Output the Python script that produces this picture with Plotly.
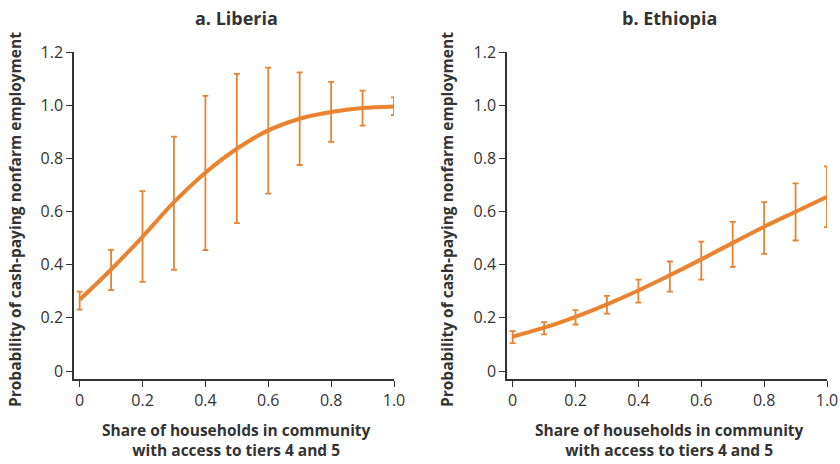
import plotly.graph_objects as go
from plotly.subplots import make_subplots

# Datos
share = [0, 0.1, 0.2, 0.3, 0.4, 0.5, 0.6, 0.7, 0.8, 0.9, 1.0]

liberia_mid = [0.268, 0.382, 0.505, 0.635, 0.746, 0.836, 0.905, 0.949, 0.974, 0.989, 0.995]
liberia_low = [0.231, 0.304, 0.335, 0.381, 0.455, 0.556, 0.667, 0.775, 0.862, 0.923, 0.963]
liberia_high = [0.299, 0.456, 0.677, 0.882, 1.035, 1.118, 1.141, 1.123, 1.088, 1.055, 1.029]

ethiopia_mid = [0.129, 0.163, 0.204, 0.251, 0.303, 0.360, 0.420, 0.482, 0.543, 0.599, 0.655]
ethiopia_low = [0.105, 0.138, 0.175, 0.216, 0.257, 0.299, 0.344, 0.392, 0.441, 0.491, 0.541]
ethiopia_high = [0.150, 0.184, 0.229, 0.283, 0.344, 0.412, 0.487, 0.561, 0.635, 0.706, 0.770]

panel_titles = ["a. Liberia", "b. Ethiopia"]
y_ticks = [0, 0.2, 0.4, 0.6, 0.8, 1.0, 1.2]
y_ticktext = ["0", "0.2", "0.4", "0.6", "0.8", "1.0", "1.2"]
x_ticks = [0, 0.2, 0.4, 0.6, 0.8, 1.0]
x_ticktext = ["0", "0.2", "0.4", "0.6", "0.8", "1.0"]

naranja = "#E9832F"
gris = "#333333"
fuente = "Open Sans"

fig = make_subplots(rows=1, cols=2)

series = [(liberia_mid, liberia_low, liberia_high), (ethiopia_mid, ethiopia_low, ethiopia_high)]
for i, (mid, low, high) in enumerate(series, 1):
    fig.add_trace(go.Scatter(
        x=share, y=mid, mode="lines",
        line=dict(color=naranja, width=4, shape="spline", smoothing=0.8),
        error_y=dict(type="data", symmetric=False,
                     array=[h - m for h, m in zip(high, mid)],
                     arrayminus=[m - l for m, l in zip(mid, low)],
                     color=naranja, thickness=1.8, width=3),
        cliponaxis=False, showlegend=False
    ), row=1, col=i)

ejes_x = dict(range=[-0.018, 1.0], tickvals=x_ticks, ticktext=x_ticktext,
              showline=True, linecolor=gris, linewidth=1.5, ticks="outside",
              ticklen=6, tickcolor=gris, tickwidth=1.2, showgrid=False, zeroline=False,
              automargin=False,
              tickfont=dict(family=fuente, size=16, color=gris))
ejes_y = dict(range=[-0.03, 1.2], tickvals=y_ticks, ticktext=y_ticktext,
              showline=True, linecolor=gris, linewidth=1.5, ticks="outside",
              ticklen=6, tickcolor=gris, tickwidth=1.2, showgrid=False, zeroline=False,
              automargin=False,
              tickfont=dict(family=fuente, size=16, color=gris))

fig.update_layout(
    xaxis=dict(domain=[74 / 840, 394 / 840], **ejes_x),
    xaxis2=dict(domain=[507 / 840, 827 / 840], **ejes_x),
    yaxis=dict(domain=[1 - 379 / 464, 1 - 52 / 464], **ejes_y),
    yaxis2=dict(domain=[1 - 379 / 464, 1 - 52 / 464], **ejes_y),
    width=840, height=464,
    margin=dict(l=0, r=0, t=0, b=0),
    plot_bgcolor="white", paper_bgcolor="white",
)

centros = [236, 669]
ytitle_x = [15, 447]
for c, t, yx in zip(centros, panel_titles, ytitle_x):
    fig.add_annotation(x=c / 840, y=1 - 18 / 464, xref="paper", yref="paper",
                       xanchor="center", yanchor="middle",
                       text="<b>" + t + "</b>", showarrow=False,
                       font=dict(family=fuente, size=18, color=gris))
    fig.add_annotation(x=c / 840, y=1 - 440 / 464, xref="paper", yref="paper",
                       xanchor="center", yanchor="middle",
                       text="<b>Share of households in community<br>with access to tiers 4 and 5</b>",
                       showarrow=False, align="center",
                       font=dict(family=fuente, size=15.5, color=gris))
    fig.add_annotation(x=yx / 840, y=1 - 220 / 464, xref="paper", yref="paper",
                       xanchor="center", yanchor="middle",
                       text="<b>Probability of cash-paying nonfarm employment</b>",
                       textangle=-90, showarrow=False,
                       font=dict(family=fuente, size=15.5, color=gris))

# quitar el margen del body para que la figura quede en (0,0)
fig.write_html("out.html", config={"displayModeBar": False},
               post_script="document.body.style.margin='0';")
